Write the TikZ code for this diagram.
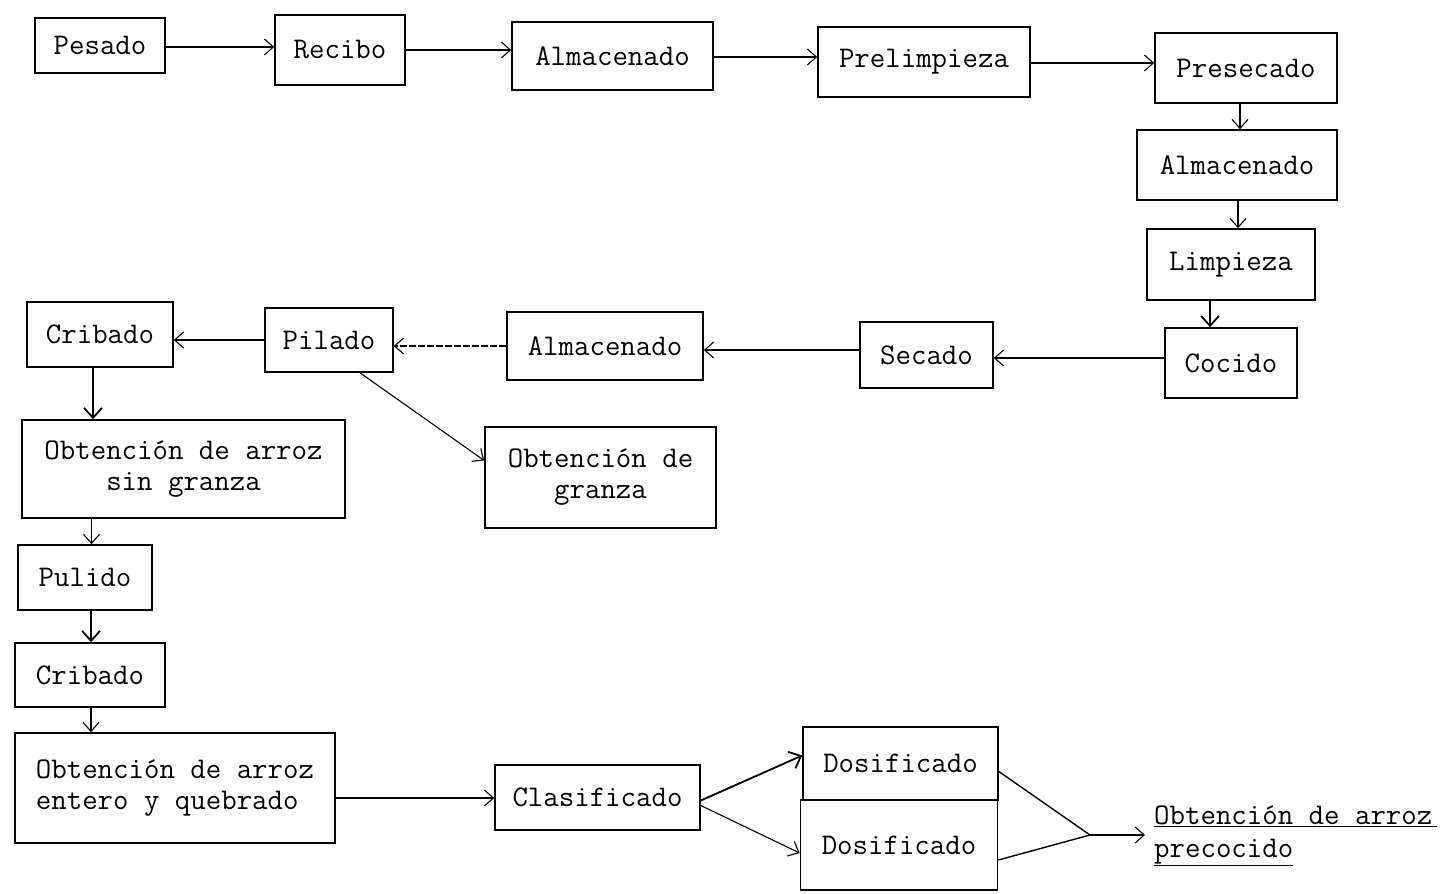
\documentclass[tikz,border=0pt]{standalone}
\usetikzlibrary{arrows.meta}
\begin{document}
\begin{tikzpicture}[x=1pt,y=-1pt,
  proc/.style={draw, line width=1.6pt, inner sep=0pt, anchor=center,
    font=\fontsize{30}{31}\selectfont\ttfamily},
  arr/.style={line width=1.1pt, -{Straight Barb[length=9pt,width=16pt,line width=1.1pt]}},
  thickarr/.style={line width=1.8pt, -{Straight Barb[length=10pt,width=18pt,line width=1.8pt]}}]
\useasboundingbox (0,0) rectangle (1452,894);

% top row
\node[proc, minimum width=130, minimum height=55] (pesado) at (100,45.5) {Pesado};
\node[proc, minimum width=130, minimum height=70] (recibo) at (340,50) {Recibo};
\node[proc, minimum width=201, minimum height=68] (alm1) at (612.5,56) {Almacenado};
\node[proc, minimum width=212, minimum height=70] (prelim) at (924,62) {Prelimpieza};
\node[proc, minimum width=182, minimum height=70] (presec) at (1246,68) {Presecado};

% right column
\node[proc, minimum width=200, minimum height=70] (alm2) at (1237,165) {Almacenado};
\node[proc, minimum width=168, minimum height=71] (limp) at (1231,264.5) {Limpieza};
\node[proc, minimum width=132, minimum height=70] (cocido) at (1231,363) {Cocido};

% middle row
\node[proc, minimum width=133, minimum height=66] (secado) at (926.5,355) {Secado};
\node[proc, minimum width=196, minimum height=68] (alm3) at (605,346) {Almacenado};
\node[proc, minimum width=128, minimum height=64] (pilado) at (329,340) {Pilado};
\node[proc, minimum width=146, minimum height=65] (crib1) at (100,334.5) {Cribado};
\node[proc, minimum width=231, minimum height=101, align=center] (granza) at (600.5,477.5) {Obtención de\\granza};

% left column
\node[proc, minimum width=323, minimum height=98, align=center] (obtsin) at (183.5,469) {Obtención de arroz\\sin granza};
\node[proc, minimum width=134, minimum height=65] (pulido) at (85,577.5) {Pulido};
\node[proc, minimum width=150, minimum height=64] (crib2) at (90,675) {Cribado};
\node[proc, minimum width=320, minimum height=110, align=left] (obtent) at (175,788) {Obtención de arroz\\entero y quebrado};

% bottom row
\node[proc, minimum width=205, minimum height=65] (clasif) at (597.5,797.5) {Clasificado};
\node[proc, minimum width=195, minimum height=73] (dosif1) at (900.5,763.5) {Dosificado};
\node[proc, minimum width=197, minimum height=90] (dosif2) at (899,845) {Dosificado};
\coordinate (merge) at (1090,835);
\node[anchor=west, inner sep=0pt, align=left,
  font=\fontsize{30}{33}\selectfont\ttfamily] (final) at (1154,836)
  {\underline{Obtención de arroz\,}\\\underline{precocido}};

% connectors, top row
\draw[arr] ([yshift=-1.5pt]pesado.east) -- ([yshift=-1.5pt]pesado.east -| recibo.west);
\draw[arr] (recibo.east) -- (recibo.east -| alm1.west);
\draw[arr] ([yshift=-1pt]alm1.east) -- ([yshift=-1pt]alm1.east -| prelim.west);
\draw[arr] ([yshift=-1pt]prelim.east) -- ([yshift=-1pt]prelim.east -| presec.west);

% connectors, right column
\draw[arr] ([xshift=-6pt]presec.south) -- ([xshift=-6pt]presec.south |- alm2.north);
\draw[arr] ([xshift=1pt]alm2.south) -- ([xshift=1pt]alm2.south |- limp.north);
\draw[thickarr] ([xshift=-21pt]limp.south) -- ([xshift=-21pt]limp.south |- cocido.north);

% connectors, middle row (right to left)
\draw[arr] ([yshift=5pt]cocido.west) -- ([yshift=5pt]cocido.west -| secado.east);
\draw[arr] ([yshift=5pt]secado.west) -- ([yshift=5pt]secado.west -| alm3.east);
\draw[arr, dash pattern=on 7pt off 2pt] (alm3.west) -- (alm3.west -| pilado.east);
\draw[arr] (pilado.west) -- (pilado.west -| crib1.east);
\draw[arr] ([xshift=31pt]pilado.south) -- ([yshift=17pt]granza.west);

% connectors, left column
\draw[thickarr] ([xshift=-7pt]crib1.south) -- ([xshift=-7pt]crib1.south |- obtsin.north);
\draw[arr] ([xshift=-92pt]obtsin.south) -- ([xshift=-92pt]obtsin.south |- pulido.north);
\draw[thickarr] ([xshift=6pt]pulido.south) -- ([xshift=6pt]pulido.south |- crib2.north);
\draw[arr] ([xshift=1pt]crib2.south) -- ([xshift=1pt]crib2.south |- obtent.north);

% connectors, bottom row
\draw[arr] ([yshift=-10pt]obtent.east) -- ([yshift=-10pt]obtent.east -| clasif.west);
\draw[thickarr] ([yshift=-3pt]clasif.east) -- ([yshift=8pt]dosif1.west);
\draw[arr] ([yshift=-8pt]clasif.east) -- ([yshift=-8pt]dosif2.west);
\draw[line width=1.4pt] ([yshift=-8pt]dosif1.east) -- (merge);
\draw[line width=1.4pt] ([yshift=-15pt]dosif2.east) -- (merge);
\draw[arr] (merge) -- ([xshift=-9pt]final.west |- merge);
\end{tikzpicture}
\end{document}
